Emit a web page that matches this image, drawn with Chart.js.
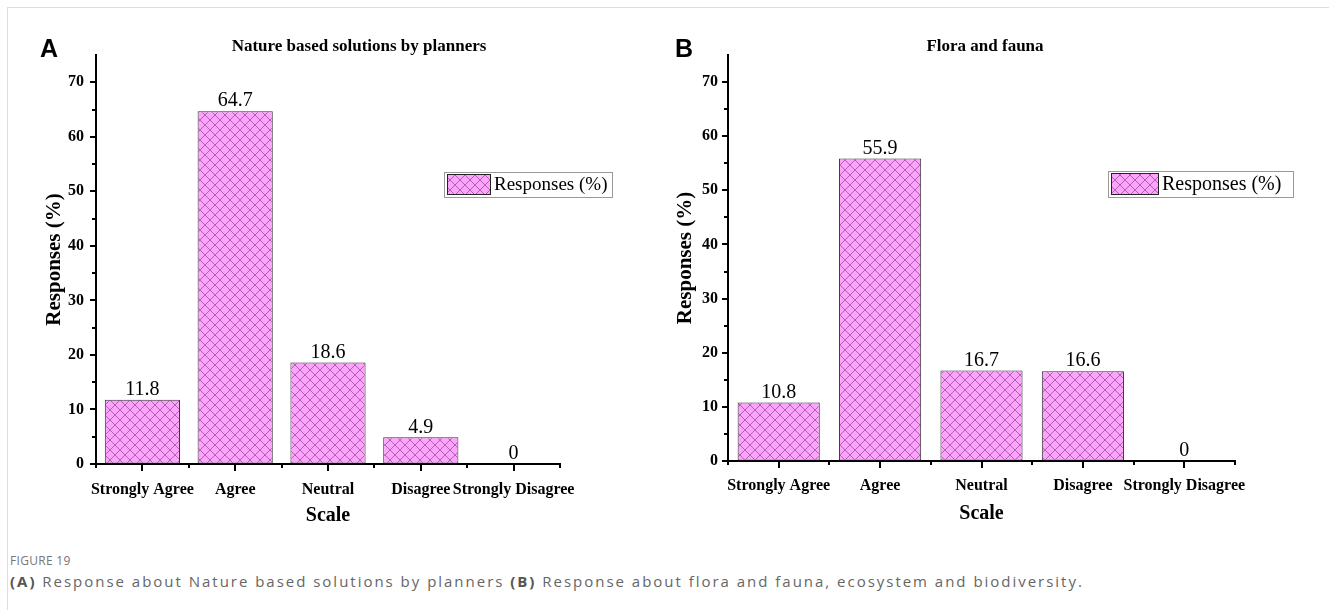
<!DOCTYPE html>
<html>
<head>
<meta charset="utf-8">
<script src="https://cdn.jsdelivr.net/npm/chart.js@4.4.0/dist/chart.umd.min.js"></script>
<style>
  body { margin: 0; background: #fff; width: 1329px; height: 610px; overflow: hidden; position: relative; }
  .frame { position: absolute; left: 7px; top: 7px; right: 0; bottom: 0; border-left: 1px solid #ddd; border-top: 1px solid #ddd; }
  .cap1 { position: absolute; left: 10px; top: 552px; font: 12px "Open Sans", sans-serif; color: #777; letter-spacing: 0.3px; }
  .cap2 { position: absolute; left: 10px; top: 571px; font: 15px "Open Sans", sans-serif; color: #666; letter-spacing: 1.98px; }
  .cap2 b { color: #555; }
</style>
</head>
<body>
<div class="frame"></div>
<div style="position:absolute;left:0;top:0;width:665px;height:530px"><canvas id="chartA"></canvas></div>
<div style="position:absolute;left:665px;top:0;width:664px;height:530px"><canvas id="chartB"></canvas></div>
<div class="cap1">FIGURE 19</div>
<div class="cap2"><b>(A)</b> Response about Nature based solutions by planners <b>(B)</b> Response about flora and fauna, ecosystem and biodiversity.</div>
<script>
// categories and values
const scaleLabels = ['Strongly Agree', 'Agree', 'Neutral', 'Disagree', 'Strongly Disagree'];
const planners = [11.8, 64.7, 18.6, 4.9, 0];
const floraFauna = [10.8, 55.9, 16.7, 16.6, 0];
const yTicks = [0, 10, 20, 30, 40, 50, 60, 70];

const SERIF = '"Liberation Serif", "Times New Roman", serif';

// pink crosshatch fill like the Origin pattern
function hatchPattern() {
    const c = document.createElement('canvas');
    c.width = 10; c.height = 10;
    const g = c.getContext('2d');
    g.fillStyle = '#ffa2ff';
    g.fillRect(0, 0, 10, 10);
    g.strokeStyle = 'rgba(70,40,70,0.6)';
    g.lineWidth = 0.8;
    g.beginPath();
    g.moveTo(-1, -1); g.lineTo(11, 11);
    g.moveTo(11, -1); g.lineTo(-1, 11);
    g.stroke();
    return g.createPattern(c, 'repeat');
}

// extra drawing: ticks, titles, panel letter, legend, value labels
const decorPlugin = {
    id: 'decor',
    afterDraw(chart, args, opts) {
        const ctx = chart.ctx;
        const x = chart.scales.x, y = chart.scales.y;
        const area = chart.chartArea;
        ctx.save();
        ctx.strokeStyle = '#000';
        ctx.lineWidth = 2;
        // y ticks, major every 10, minor every 5
        for (let v = 0; v < 75; v += 5) {
            const py = Math.round(y.getPixelForValue(v));
            const len = v % 10 === 0 ? 6 : 4;
            ctx.beginPath();
            ctx.moveTo(area.left, py);
            ctx.lineTo(area.left - len, py);
            ctx.stroke();
        }
        // x ticks, major at categories, minor between
        const n = scaleLabels.length;
        const step = (area.right - area.left) / n;
        for (let i = 0; i <= n; i++) {
            const px = Math.round(area.left + i * step);
            ctx.beginPath();
            ctx.moveTo(px, area.bottom);
            ctx.lineTo(px, area.bottom + 4);
            ctx.stroke();
        }
        for (let i = 0; i < n; i++) {
            const px = Math.round(x.getPixelForValue(i));
            ctx.beginPath();
            ctx.moveTo(px, area.bottom);
            ctx.lineTo(px, area.bottom + 7);
            ctx.stroke();
        }

        // value labels above bars
        const meta = chart.getDatasetMeta(0);
        const data = chart.data.datasets[0].data;
        ctx.fillStyle = '#000';
        ctx.font = '20px ' + SERIF;
        ctx.textAlign = 'center';
        ctx.textBaseline = 'bottom';
        meta.data.forEach((bar, i) => {
            ctx.fillText(String(data[i]), bar.x, bar.y);
        });

        // chart title
        ctx.font = 'bold 17px ' + SERIF;
        ctx.textBaseline = 'middle';
        ctx.fillText(opts.title, opts.titleX, 47);

        // panel letter
        ctx.font = 'bold 25px "Liberation Sans", Arial, sans-serif';
        ctx.textAlign = 'left';
        ctx.fillText(opts.letter, opts.letterX, 50);

        // axis titles
        ctx.font = 'bold 20px ' + SERIF;
        ctx.textAlign = 'center';
        ctx.fillText('Scale', (area.left + area.right) / 2, opts.scaleY);
        ctx.font = 'bold 21px ' + SERIF;
        ctx.save();
        ctx.translate(opts.yTitleX, (area.top + area.bottom) / 2);
        ctx.rotate(-Math.PI / 2);
        ctx.fillText('Responses (%)', 0, 0);
        ctx.restore();

        // legend box
        const L = opts.legend;
        ctx.fillStyle = '#fff';
        ctx.fillRect(L.x, L.y, L.w, L.h);
        ctx.strokeStyle = '#999';
        ctx.lineWidth = 1;
        ctx.strokeRect(L.x + 0.5, L.y + 0.5, L.w, L.h);
        ctx.fillStyle = chart.data.datasets[0].backgroundColor;
        ctx.fillRect(L.x + 3, L.y + 2, L.sw, L.h - 5);
        ctx.strokeStyle = '#222';
        ctx.strokeRect(L.x + 3.5, L.y + 2.5, L.sw, L.h - 5);
        ctx.fillStyle = '#000';
        ctx.font = L.font + 'px ' + SERIF;
        ctx.textAlign = 'left';
        ctx.textBaseline = 'middle';
        ctx.fillText('Responses (%)', L.x + L.sw + 7, L.y + L.h / 2 + 1);
        ctx.restore();
    }
};

function makeChart(id, values, cfg) {
    const ctx = document.getElementById(id);
    return new Chart(ctx, {
        type: 'bar',
        data: {
            labels: scaleLabels,
            datasets: [{
                label: 'Responses (%)',
                data: values,
                backgroundColor: hatchPattern(),
                borderColor: '#333',
                borderWidth: 1,
                borderSkipped: false,
                categoryPercentage: 1,
                barPercentage: 0.81
            }]
        },
        options: {
            responsive: true,
            maintainAspectRatio: false,
            animation: false,
            layout: { padding: { left: 0, right: cfg.padRight, top: 55, bottom: 0 } },
            plugins: {
                legend: { display: false },
                tooltip: { enabled: false },
                decor: cfg.decor
            },
            scales: {
                x: {
                    offset: true,
                    grid: { display: true, drawOnChartArea: false, drawTicks: true, tickLength: 7, color: 'rgba(0,0,0,0)' },
                    border: { display: true, color: '#000', width: 2 },
                    ticks: {
                        color: '#000', padding: cfg.xPad, maxRotation: 0, autoSkip: false,
                        font: { family: SERIF, size: 16, weight: 'bold' }
                    },
                    afterFit(scale) { scale.height = cfg.xHeight; }
                },
                y: {
                    min: 0,
                    max: 75,
                    afterBuildTicks(scale) {
                        scale.ticks = yTicks.map(v => ({ value: v }));
                    },
                    grid: { display: true, drawOnChartArea: false, drawTicks: true, tickLength: 6, color: 'rgba(0,0,0,0)' },
                    border: { display: true, color: '#000', width: 2 },
                    ticks: {
                        color: '#000', padding: cfg.yPad,
                        font: { family: SERIF, size: 16, weight: 'bold' }
                    },
                    afterFit(scale) { scale.width = cfg.yWidth; }
                }
            }
        },
        plugins: [decorPlugin]
    });
}

makeChart('chartA', planners, {
    padRight: 105, yWidth: 96, xHeight: 66, xPad: 9, yPad: 6,
    decor: {
        title: 'Nature based solutions by planners', titleX: 359, letter: 'A', letterX: 40,
        scaleY: 516, yTitleX: 55,
        legend: { x: 444, y: 172, w: 168, h: 25, sw: 43, font: 19 }
    }
});

makeChart('chartB', floraFauna, {
    padRight: 94, yWidth: 63, xHeight: 69, xPad: 8, yPad: 4,
    decor: {
        title: 'Flora and fauna', titleX: 320, letter: 'B', letterX: 10,
        scaleY: 514, yTitleX: 21,
        legend: { x: 443, y: 171, w: 185, h: 26, sw: 47, font: 20 }
    }
});
</script>
</body>
</html>
